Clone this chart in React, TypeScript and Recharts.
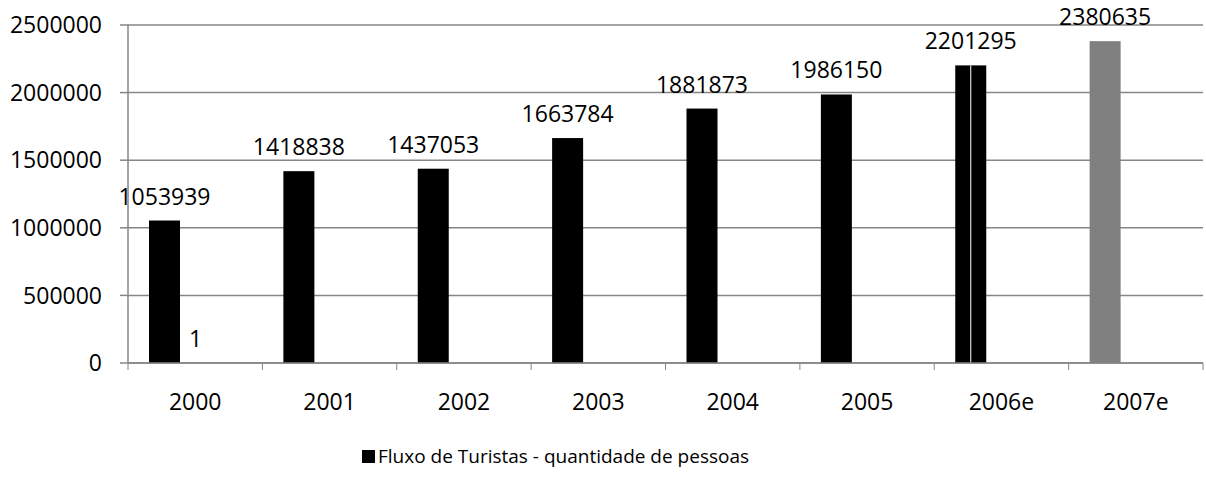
import React from "react";
import {
  BarChart,
  Bar,
  XAxis,
  YAxis,
  CartesianGrid,
  Legend,
  LabelList,
  Cell,
} from "recharts";

const years = ["2000", "2001", "2002", "2003", "2004", "2005", "2006e", "2007e"];
const fluxo = [1053939, 1418838, 1437053, 1663784, 1881873, 1986150, 2201295, 2380635];
const extra = [1, null, null, null, null, null, null, null];
const spare = [null, null, null, null, null, null, null, null];
const estimated = ["2007e"];
const split = ["2006e"];
const yTicks = [0, 500000, 1000000, 1500000, 2000000, 2500000];

const data = years.map((year, i) => ({
  year,
  fluxo: fluxo[i],
  extra: extra[i],
  spare: spare[i],
}));

const AXIS = "#868686";
const FONT = 23;

const FluxoShape = (props: any) => {
  const { x, y, width, height, fill, payload } = props;
  return (
    <g>
      <rect x={x} y={y} width={width} height={height} fill={fill} />
      {split.includes(payload.year) && (
        <line
          x1={x + width / 2}
          x2={x + width / 2}
          y1={y}
          y2={y + height}
          stroke="#fff"
          strokeWidth={1}
        />
      )}
    </g>
  );
};

const YearTick = (props: any) => {
  const { x, y, payload, index, visibleTicksCount } = props;
  const half = payload.offset ?? 0;
  const last = index === visibleTicksCount - 1;
  return (
    <g>
      <line x1={x - half} x2={x - half} y1={y} y2={y + 7} stroke={AXIS} />
      {last && <line x1={x + half} x2={x + half} y1={y} y2={y + 7} stroke={AXIS} />}
      <text x={x} y={y + 47} textAnchor="middle" fontSize={FONT} fill="#000">
        {payload.value}
      </text>
    </g>
  );
};

const LegendBox = () => (
  <div
    style={{
      height: 46,
      paddingLeft: 362,
      boxSizing: "border-box",
      display: "flex",
      alignItems: "center",
      fontSize: 19,
      color: "#000",
    }}
  >
    <span
      style={{ width: 13, height: 13, background: "#000", display: "inline-block", marginRight: 3 }}
    />
    <span>Fluxo de Turistas - quantidade de pessoas</span>
  </div>
);

export default function App() {
  return (
    <div
      style={{
        position: "absolute",
        left: 0,
        top: 0,
        width: 1206,
        height: 483,
        background: "#fff",
        fontFamily: '"Open Sans", sans-serif',
      }}
    >
      <BarChart
        width={1206}
        height={483}
        data={data}
        margin={{ top: 25, right: 3, left: 0, bottom: 4 }}
        barSize={31}
        barGap={0}
      >
        <CartesianGrid vertical={false} stroke={AXIS} strokeWidth={1.5} />
        <XAxis
          dataKey="year"
          height={70}
          stroke={AXIS}
          strokeWidth={1.5}
          tickLine={false}
          tickSize={0}
          tickMargin={0}
          tick={<YearTick />}
          interval={0}
        />
        <YAxis
          width={128}
          domain={[0, 2500000]}
          ticks={yTicks}
          stroke={AXIS}
          strokeWidth={1.5}
          tickSize={8}
          tickMargin={18}
          tick={{ fill: "#000", fontSize: FONT }}
        />
        <Legend verticalAlign="bottom" content={<LegendBox />} />
        <Bar dataKey="fluxo" fill="#000" shape={<FluxoShape />} isAnimationActive={false}>
          {data.map((d) => (
            <Cell key={d.year} fill={estimated.includes(d.year) ? "#808080" : "#000"} />
          ))}
          <LabelList dataKey="fluxo" position="top" offset={16} fill="#000" fontSize={FONT} />
        </Bar>
        <Bar dataKey="extra" fill="#4f81bd" isAnimationActive={false}>
          <LabelList dataKey="extra" position="top" offset={16} fill="#000" fontSize={FONT} />
        </Bar>
        <Bar dataKey="spare" fill="#9bbb59" isAnimationActive={false} />
      </BarChart>
    </div>
  );
}
